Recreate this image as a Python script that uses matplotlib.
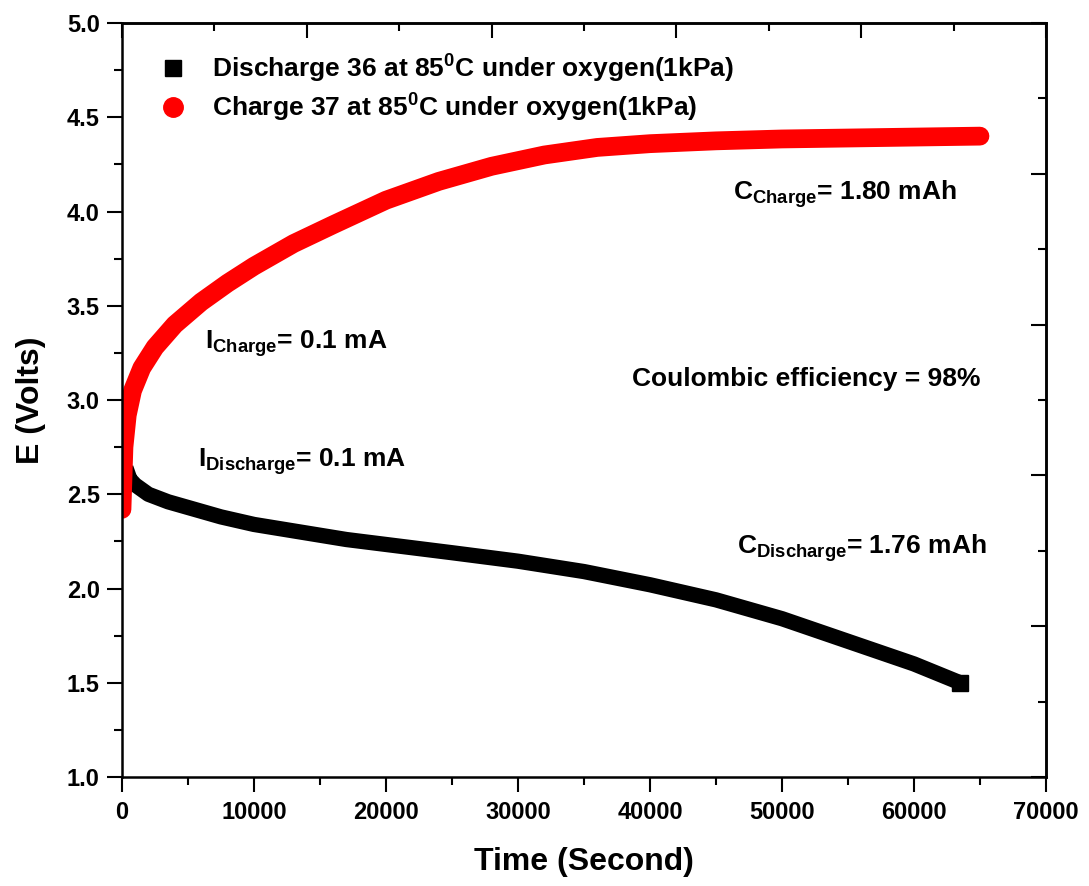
import numpy as np
import matplotlib
matplotlib.use("Agg")
import matplotlib.pyplot as plt
from matplotlib.lines import Line2D
from matplotlib.ticker import MultipleLocator, NullFormatter

plt.rcParams['font.family'] = 'Liberation Sans'
plt.rcParams['font.weight'] = 'bold'
plt.rcParams['mathtext.fontset'] = 'custom'
plt.rcParams['mathtext.rm'] = 'Liberation Sans:bold'
plt.rcParams['mathtext.bf'] = 'Liberation Sans:bold'
plt.rcParams['mathtext.it'] = 'Liberation Sans:bold'

# Discharge 36 (black squares), time in s, potential in V
t_dis = [300, 600, 1000, 2000, 3500, 5000, 7500, 10000, 13500, 17000, 21000,
         25000, 30000, 35000, 40000, 45000, 50000, 55000, 60000, 63500]
e_dis = [2.64, 2.58, 2.55, 2.50, 2.46, 2.43, 2.38, 2.34, 2.30, 2.26, 2.225,
         2.19, 2.145, 2.09, 2.02, 1.94, 1.84, 1.72, 1.60, 1.50]

# Charge 37 (red circles)
t_chg = [0, 150, 400, 800, 1500, 2500, 4000, 6000, 8000, 10000, 13000, 16000,
         20000, 24000, 28000, 32000, 36000, 40000, 45000, 50000, 55000, 60000, 65000]
e_chg = [2.42, 2.75, 2.92, 3.05, 3.17, 3.28, 3.40, 3.52, 3.62, 3.71, 3.83, 3.93,
         4.06, 4.16, 4.24, 4.30, 4.34, 4.36, 4.375, 4.385, 4.39, 4.395, 4.40]

fig = plt.figure(figsize=(10.89, 8.86), dpi=100)
ax = fig.add_axes([0.112, 0.123, 0.8485, 0.851])

# dense markers in the original merge into thick bands
ax.plot(t_dis, e_dis, color='black', lw=11, solid_capstyle='butt',
        solid_joinstyle='round', marker='s', ms=11, markevery=[len(t_dis) - 1])
ax.plot(t_chg, e_chg, color='red', lw=13.5, solid_capstyle='round',
        solid_joinstyle='round')

ax.set_xlim(0, 70000)
ax.set_ylim(1.0, 5.0)
ax.xaxis.set_major_locator(MultipleLocator(10000))
ax.xaxis.set_minor_locator(MultipleLocator(5000))
ax.yaxis.set_major_locator(MultipleLocator(0.5))
ax.yaxis.set_minor_locator(MultipleLocator(0.25))
ax.yaxis.set_major_formatter(plt.FormatStrFormatter('%.1f'))
ax.tick_params(which='major', direction='out', length=11, width=1.5,
               labelsize=17, pad=5)
ax.tick_params(which='minor', direction='out', length=6, width=1.5)
ax.tick_params(axis='x', which='major', pad=6)
for s in ax.spines.values():
    s.set_linewidth(1.8)

# top and right axes as drawn by the original software
top = ax.secondary_xaxis('top')
top.xaxis.set_major_locator(MultipleLocator(14000))
top.xaxis.set_minor_locator(MultipleLocator(7000))
top.xaxis.set_major_formatter(NullFormatter())
top.tick_params(which='major', direction='in', length=11, width=1.5)
top.tick_params(which='minor', direction='in', length=6, width=1.5)
top.spines['top'].set_linewidth(1.8)

right = ax.secondary_yaxis('right')
right.set_yticks([1.0, 1.8, 2.6, 3.4, 4.2, 5.0])
right.set_yticks([1.4, 2.2, 3.0, 3.8, 4.6], minor=True)
right.yaxis.set_major_formatter(NullFormatter())
right.tick_params(which='major', direction='in', length=11, width=1.5)
right.tick_params(which='minor', direction='in', length=6, width=1.5)
right.spines['right'].set_linewidth(1.8)

ax.set_xlabel('Time (Second)', fontsize=23, fontweight='bold', labelpad=17)
ax.set_ylabel('E (Volts)', fontsize=23, fontweight='bold', labelpad=15)

handles = [Line2D([], [], color='black', marker='s', ls='none', ms=11),
           Line2D([], [], color='red', marker='o', ls='none', ms=14)]
labels = [r'Discharge 36 at 85$^{0}$C under oxygen(1kPa)',
          r'Charge 37 at 85$^{0}$C under oxygen(1kPa)']
ax.legend(handles, labels, loc='upper left', bbox_to_anchor=(0.007, 0.985),
          frameon=False, fontsize=19, handletextpad=0.45, labelspacing=0.25,
          borderaxespad=0.3)

fs = 19
ax.text(46300, 4.06, r'C$_{\mathrm{Charge}}$= 1.80 mAh', fontsize=fs)
ax.text(38640, 3.074, 'Coulombic efficiency = 98%', fontsize=fs)
ax.text(46600, 2.183, r'C$_{\mathrm{Discharge}}$= 1.76 mAh', fontsize=fs)
ax.text(6300, 3.27, r'I$_{\mathrm{Charge}}$= 0.1 mA', fontsize=fs)
ax.text(5760, 2.645, r'I$_{\mathrm{Discharge}}$= 0.1 mA', fontsize=fs)

fig.savefig('out.png', dpi=100)
